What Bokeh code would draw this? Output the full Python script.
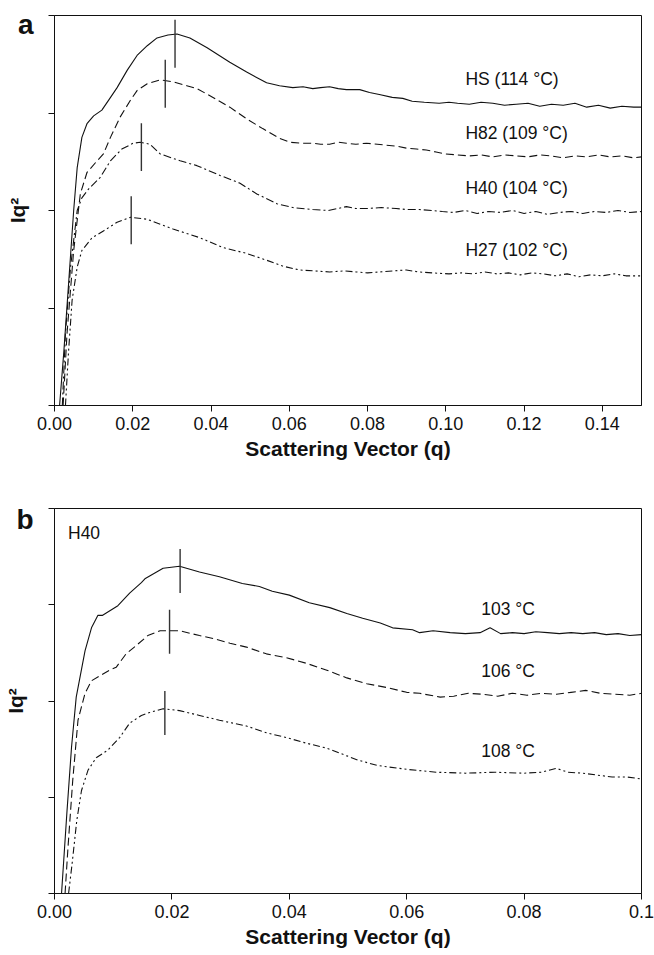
from bokeh.plotting import figure
from bokeh.layouts import column
from bokeh.models import ColumnDataSource, FixedTicker, NumeralTickFormatter
from bokeh.core.properties import value
from bokeh.embed import file_html
from bokeh.resources import INLINE

# ---------------- Panel a data ----------------
a_hs_q = [0.0013,0.0024,0.0036,0.0049,0.0058,0.0070,0.0083,0.0100,0.0121,0.0138,0.0160,0.0186,0.0211,0.0237,0.0262,0.0290,0.0313,0.0346,0.0390,0.0448,0.0491,0.0542,0.0575,0.0609,0.0635,0.066,0.068,0.0703,0.0725,0.0746,0.078,0.0805,0.083,0.0863,0.089,0.0914,0.0945,0.0983,0.1008,0.103,0.106,0.109,0.112,0.115,0.118,0.121,0.124,0.127,0.130,0.133,0.136,0.139,0.142,0.145,0.148,0.150]
a_hs_y = [0,0.56,1.25,2.0,2.44,2.75,2.89,2.97,3.03,3.13,3.26,3.44,3.59,3.69,3.77,3.80,3.81,3.77,3.67,3.52,3.42,3.31,3.28,3.26,3.27,3.25,3.26,3.27,3.25,3.24,3.24,3.21,3.19,3.16,3.15,3.12,3.11,3.10,3.11,3.10,3.09,3.11,3.10,3.08,3.09,3.10,3.07,3.09,3.08,3.10,3.06,3.08,3.05,3.07,3.06,3.06]

a_h82_q = [0.0022,0.0032,0.0049,0.0066,0.0083,0.0109,0.0125,0.0143,0.0168,0.0194,0.0211,0.0237,0.027,0.0303,0.0338,0.0364,0.0405,0.0448,0.0491,0.0532,0.0575,0.0601,0.063,0.066,0.068,0.0703,0.0725,0.0746,0.077,0.0797,0.0825,0.0848,0.0875,0.0899,0.0925,0.095,0.0975,0.1,0.103,0.106,0.109,0.112,0.115,0.118,0.121,0.124,0.127,0.130,0.133,0.136,0.139,0.142,0.145,0.148,0.15]
a_h82_y = [0,0.74,1.59,2.17,2.39,2.51,2.58,2.75,2.96,3.13,3.23,3.30,3.34,3.32,3.28,3.25,3.16,3.06,2.94,2.84,2.74,2.70,2.69,2.69,2.68,2.68,2.70,2.69,2.68,2.69,2.68,2.67,2.66,2.64,2.63,2.62,2.60,2.58,2.57,2.56,2.57,2.55,2.57,2.56,2.55,2.57,2.56,2.54,2.56,2.55,2.57,2.55,2.56,2.54,2.55]

a_h40_q = [0.002,0.0028,0.0041,0.0058,0.007,0.0087,0.0117,0.0143,0.0172,0.0201,0.0219,0.0244,0.027,0.0321,0.0364,0.0423,0.0474,0.0517,0.0568,0.0609,0.066,0.07,0.0746,0.077,0.0797,0.0835,0.0873,0.09,0.0932,0.0965,0.0991,0.102,0.105,0.108,0.111,0.114,0.117,0.12,0.123,0.126,0.129,0.132,0.135,0.138,0.141,0.144,0.147,0.15]
a_h40_y = [0,0.74,1.42,2.0,2.13,2.22,2.34,2.51,2.63,2.69,2.70,2.68,2.58,2.51,2.46,2.36,2.28,2.17,2.07,2.03,2.01,2.00,2.04,2.02,2.02,2.03,2.02,2.01,2.01,2.00,1.99,1.98,2.00,1.97,1.99,1.98,2.00,1.97,1.99,1.96,1.98,1.99,1.97,1.99,1.98,2.00,1.98,1.99]

a_h27_q = [0.0028,0.0036,0.0045,0.0058,0.007,0.0096,0.0125,0.016,0.0194,0.0237,0.0303,0.0372,0.043,0.0491,0.0542,0.0583,0.0626,0.0665,0.0703,0.074,0.0771,0.08,0.083,0.0865,0.0899,0.093,0.0965,0.1008,0.104,0.107,0.11,0.113,0.116,0.119,0.122,0.125,0.128,0.131,0.134,0.137,0.14,0.143,0.146,0.15]
a_h27_y = [0,0.56,1.08,1.42,1.59,1.72,1.79,1.88,1.93,1.91,1.81,1.72,1.62,1.56,1.49,1.43,1.39,1.38,1.37,1.38,1.37,1.36,1.37,1.38,1.39,1.37,1.36,1.35,1.36,1.35,1.37,1.35,1.36,1.34,1.36,1.35,1.33,1.35,1.32,1.34,1.33,1.35,1.33,1.33]

a_peak_q = [0.0308, 0.0283, 0.0222, 0.0196]
a_peak_y = [3.71, 3.30, 2.65, 1.90]
a_labels = ["HS (114 °C)", "H82 (109 °C)", "H40 (104 °C)", "H27 (102 °C)"]
a_label_q = [0.105, 0.105, 0.105, 0.105]
a_label_y = [3.35, 2.79, 2.23, 1.59]
a_xticks = [0.0, 0.02, 0.04, 0.06, 0.08, 0.10, 0.12, 0.14]

# ---------------- Panel b data ----------------
b_103_q = [0.0012,0.0021,0.0029,0.0037,0.0052,0.0063,0.0074,0.0082,0.0108,0.0128,0.0148,0.0154,0.0185,0.0213,0.0247,0.0281,0.032,0.0349,0.0371,0.04,0.0434,0.0469,0.0498,0.0525,0.0555,0.0576,0.061,0.0622,0.0645,0.0674,0.07,0.0725,0.0742,0.076,0.078,0.08,0.082,0.084,0.086,0.088,0.09,0.092,0.094,0.096,0.098,0.1]
b_103_y = [0,0.83,1.52,2.04,2.52,2.76,2.89,2.89,2.99,3.12,3.23,3.27,3.38,3.40,3.34,3.29,3.22,3.19,3.14,3.10,3.02,2.97,2.91,2.86,2.81,2.76,2.74,2.71,2.73,2.71,2.70,2.71,2.76,2.70,2.71,2.70,2.72,2.71,2.70,2.71,2.70,2.71,2.69,2.70,2.68,2.69]

b_106_q = [0.0018,0.0023,0.0031,0.004,0.0052,0.0063,0.0077,0.0094,0.0105,0.0122,0.014,0.0159,0.018,0.0213,0.0247,0.027,0.0299,0.0327,0.0361,0.0395,0.043,0.0464,0.0498,0.0532,0.0566,0.06,0.0622,0.0657,0.068,0.0705,0.073,0.0755,0.078,0.0805,0.083,0.0855,0.088,0.0905,0.093,0.0955,0.098,0.1]
b_106_y = [0,0.48,1.17,1.80,2.08,2.21,2.26,2.32,2.35,2.49,2.58,2.68,2.73,2.73,2.68,2.65,2.60,2.56,2.49,2.45,2.39,2.32,2.24,2.18,2.14,2.09,2.08,2.04,2.05,2.08,2.07,2.05,2.08,2.06,2.08,2.07,2.09,2.11,2.08,2.07,2.06,2.08]

b_108_q = [0.0024,0.003,0.0038,0.0046,0.0057,0.0071,0.0091,0.0111,0.0128,0.0148,0.0162,0.0185,0.0213,0.0247,0.0281,0.0327,0.0361,0.0395,0.043,0.0464,0.0498,0.0515,0.055,0.06,0.065,0.07,0.075,0.08,0.083,0.0855,0.0875,0.09,0.0925,0.095,0.0975,0.1]
b_108_y = [0,0.31,0.76,1.07,1.28,1.41,1.49,1.62,1.77,1.85,1.88,1.92,1.90,1.85,1.80,1.74,1.67,1.62,1.56,1.51,1.43,1.39,1.33,1.29,1.26,1.25,1.26,1.25,1.26,1.30,1.26,1.25,1.23,1.21,1.21,1.19]

b_peak_q = [0.0214, 0.0196, 0.0188]
b_peak_y = [3.35, 2.72, 1.875]
b_labels = ["103 °C", "106 °C", "108 °C"]
b_label_q = [0.0727, 0.0727, 0.0727]
b_label_y = [2.96, 2.31, 1.48]
b_xticks = [0.0, 0.02, 0.04, 0.06, 0.08, 0.1]

y_ticks = [0, 1, 2, 3, 4]

FONT = "Liberation Sans"
INK = "#111111"


def make_panel(width, height, top, bottom, left, right, xmax, curves, dashes, peaks, peak_half,
               labels, xticks, letter, letter_y, extra_label=None):
    p = figure(width=width, height=height, x_range=(0, xmax), y_range=(0, 4),
               output_backend="svg", toolbar_location=None,
               min_border_top=top, min_border_bottom=bottom,
               min_border_left=left, min_border_right=right)
    p.background_fill_color = "white"
    p.border_fill_color = "white"
    p.outline_line_color = INK
    p.outline_line_width = 1
    p.grid.visible = False

    for (qs, ys), dash in zip(curves, dashes):
        p.line(qs, ys, line_color=INK, line_width=1.1, line_dash=dash)

    pq, py = peaks
    p.segment(x0=pq, x1=pq, y0=[v - peak_half for v in py], y1=[v + peak_half for v in py],
              line_color="#333333", line_width=1.4)

    lq, ly, lt = labels
    src = ColumnDataSource(dict(x=lq, y=ly, t=lt))
    p.text(x="x", y="y", text="t", source=src, text_font=value(FONT),
           text_font_size="17.5px", text_color=INK, text_baseline="middle", text_align="left")

    if extra_label is not None:
        ex, ey, et = extra_label
        p.text(x=[ex], y=[ey], text=[et], text_font=value(FONT),
               text_font_size="17.5px", text_color=INK, text_baseline="middle", text_align="left")

    # x axis
    xa = p.xaxis[0]
    xa.ticker = FixedTicker(ticks=xticks)
    xa.formatter = NumeralTickFormatter(format="0.00")
    if xmax == 0.1:
        xa.major_label_overrides = {0.1: "0.1"}
    xa.minor_tick_line_color = None
    xa.major_tick_in = 0
    xa.major_tick_out = 6
    xa.major_tick_line_color = INK
    xa.axis_line_color = INK
    xa.major_label_text_font = FONT
    xa.major_label_text_font_size = "18px"
    xa.major_label_text_color = INK
    xa.major_label_standoff = 5
    xa.axis_label = "Scattering Vector (q)"
    xa.axis_label_text_font = FONT
    xa.axis_label_text_font_size = "21px"
    xa.axis_label_text_font_style = "bold"
    xa.axis_label_text_color = INK
    xa.axis_label_standoff = 4

    # y axis: tick marks drawn as minor ticks, the panel letter is the only labelled tick
    ya = p.yaxis[0]
    ya.ticker = FixedTicker(ticks=[letter_y], minor_ticks=y_ticks)
    ya.major_label_overrides = {letter_y: letter}
    ya.major_tick_line_color = None
    ya.major_tick_in = 0
    ya.major_tick_out = 6
    ya.minor_tick_line_color = INK
    ya.minor_tick_in = 0
    ya.minor_tick_out = 6
    ya.axis_line_color = INK
    ya.major_label_text_font = FONT
    ya.major_label_text_font_size = "28px"
    ya.major_label_text_font_style = "bold"
    ya.major_label_text_color = INK
    ya.major_label_standoff = 15
    ya.axis_label = "Iq²"
    ya.axis_label_text_font = FONT
    ya.axis_label_text_font_size = "21px"
    ya.axis_label_text_font_style = "bold"
    ya.axis_label_text_color = INK
    ya.axis_label_standoff = -14
    return p


pa = make_panel(654, 467, 15, 62, 54, 12, 0.15,
                [(a_hs_q, a_hs_y), (a_h82_q, a_h82_y), (a_h40_q, a_h40_y), (a_h27_q, a_h27_y)],
                ["solid", "8 4", "8 3 2 3", "7 3 2 3 2 3"],
                (a_peak_q, a_peak_y), 0.246,
                (a_label_q, a_label_y, a_labels), a_xticks, "a", 3.91)

pb = make_panel(654, 488, 41, 62, 54, 13, 0.1,
                [(b_103_q, b_103_y), (b_106_q, b_106_y), (b_108_q, b_108_y)],
                ["solid", "8 4", "7 3 2 3 2 3"],
                (b_peak_q, b_peak_y), 0.229,
                (b_label_q, b_label_y, b_labels), b_xticks, "b", 3.89,
                extra_label=(0.0023, 3.75, "H40"))

layout = column(pa, pb, spacing=0)
open("out.html", "w").write(file_html(layout, INLINE))
